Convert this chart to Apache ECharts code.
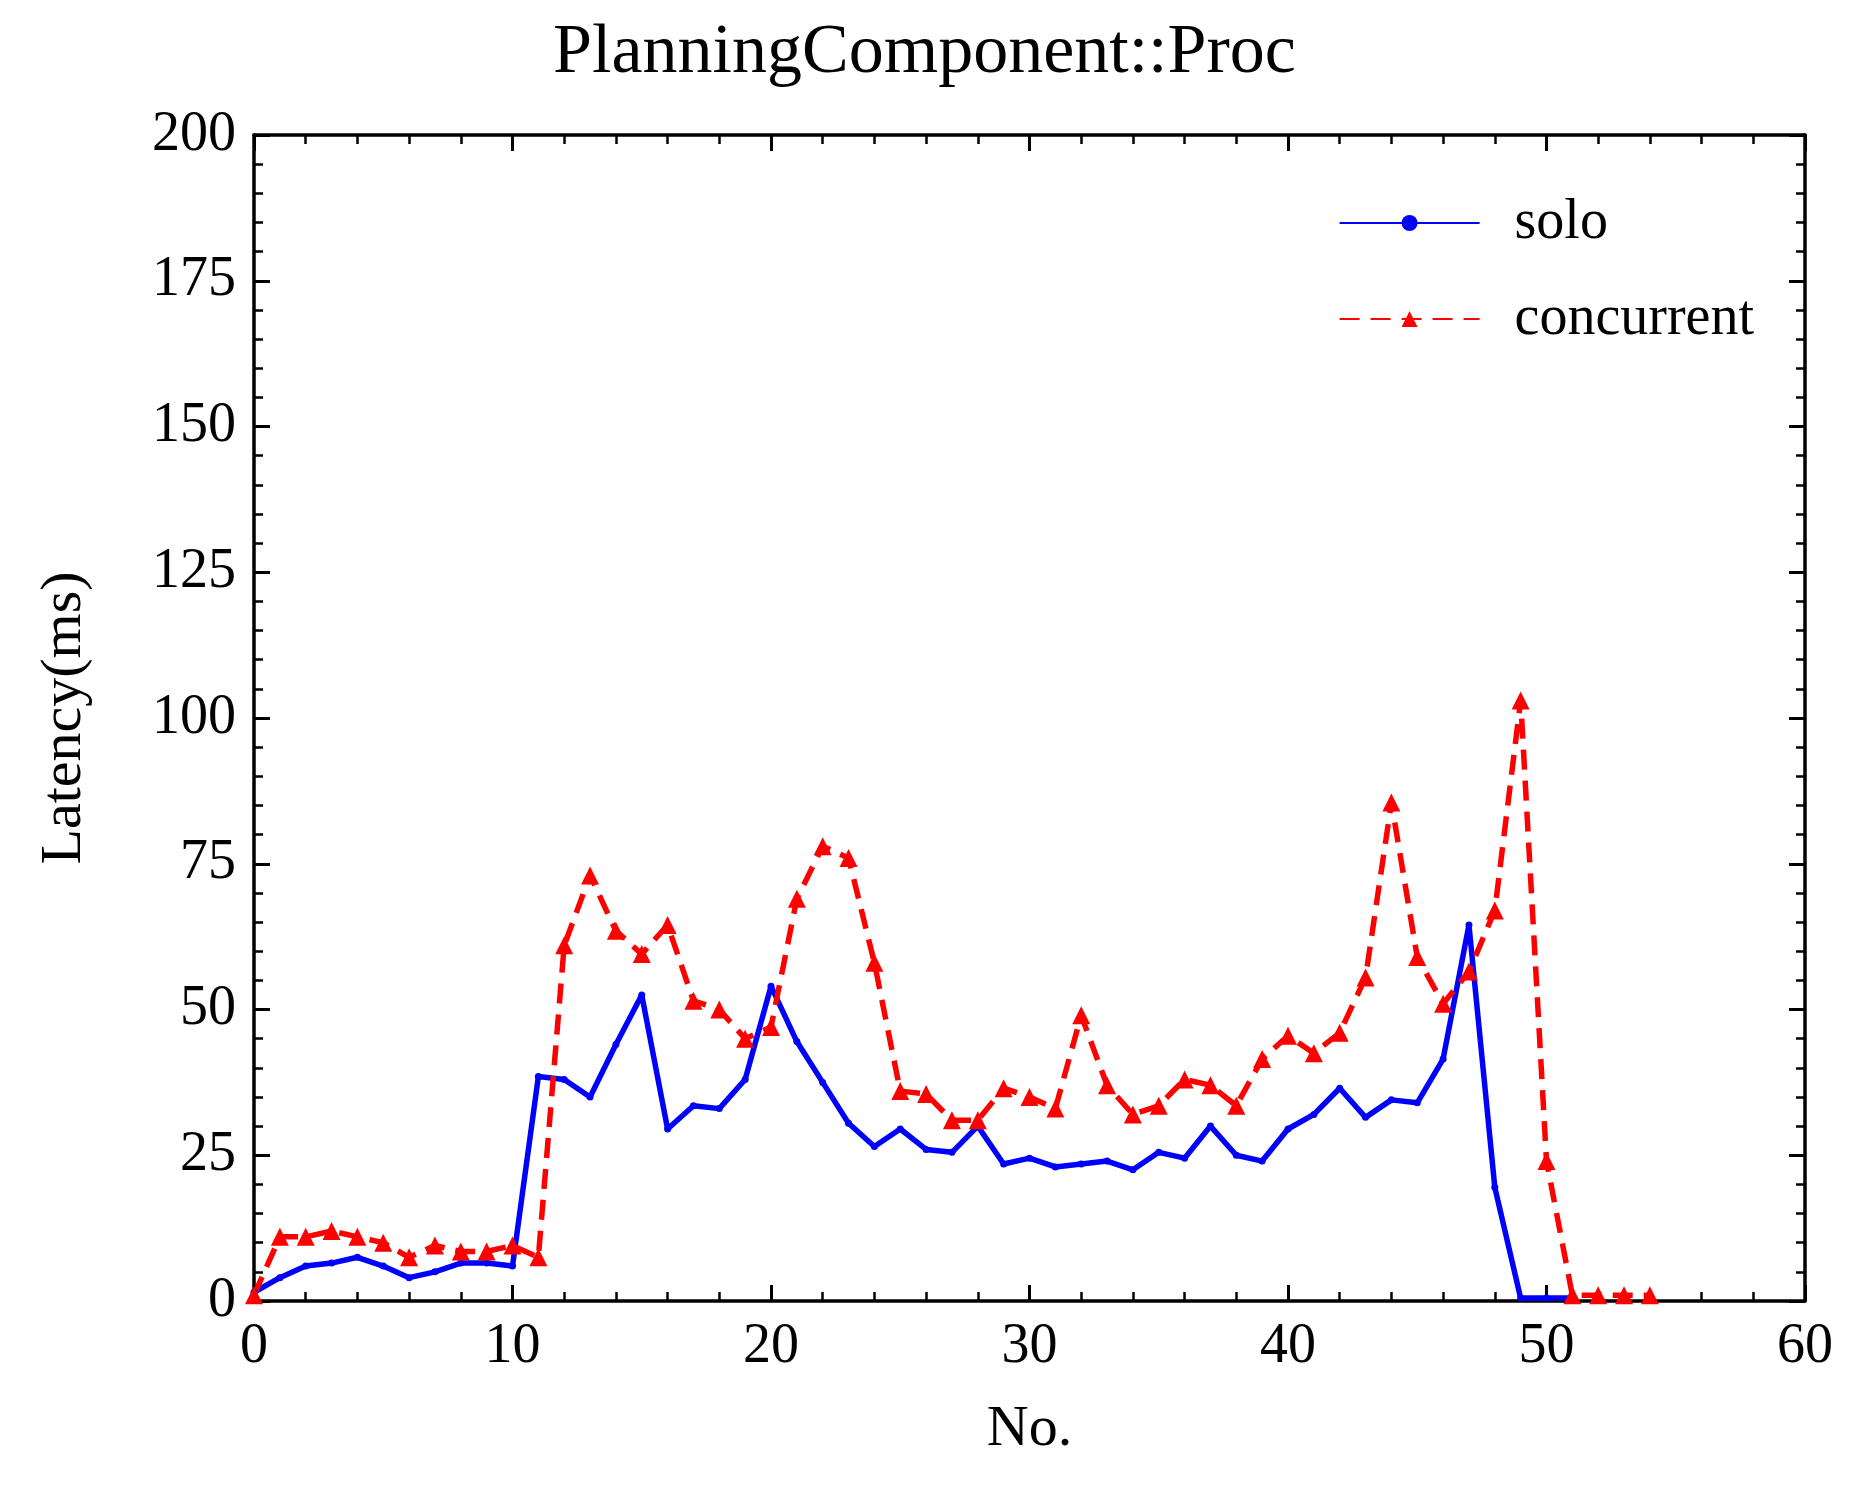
<!DOCTYPE html>
<html>
<head>
<meta charset="utf-8">
<script src="https://cdn.jsdelivr.net/npm/echarts@6/dist/echarts.min.js"></script>
<style>html,body{margin:0;padding:0;background:#fff}#main{width:1849px;height:1500px}</style>
</head>
<body>
<div id="main"></div>
<script>
// 数据
const soloValues = [1.5,4,6,6.5,7.5,6,4,5,6.5,6.5,6,38.5,38,35,44,52.5,29.5,33.5,33,38,54,44.5,37.5,30.5,26.5,29.5,26,25.5,30,23.5,24.5,23,23.5,24,22.5,25.5,24.5,30,25,24,29.5,32,36.5,31.5,34.5,34,41.5,64.5,19.5,0.5,0.5,0.5];
const concurrentValues = [1,11,11,12,11,10,7.5,9.5,8.5,8.5,9.5,7.5,61,73,63.5,59.5,64.5,51.5,50,45,47,69,78,76,58,36,35.5,31,31,36.5,35,33,49,37,32,33.5,38,37,33.5,41.5,45.5,42.5,46,55.5,85.5,59,51,56.5,67,103,24,1,1,1,1];
const xTicks = [0,10,20,30,40,50,60];
const yTicks = [0,25,50,75,100,125,150,175,200];

const font = 'Liberation Serif';
const toPairs = arr => arr.map((v, i) => [i, v]);

const chart = echarts.init(document.getElementById('main'));

// 坐标轴：刻度朝内，四边都有
function makeAxis(opts, showLabel, pos) {
  return Object.assign({
    type: 'value',
    position: pos,
    axisLine: { show: true, onZero: false, lineStyle: { color: '#000', width: 3.5 } },
    axisTick: { show: true, inside: true, length: 16, lineStyle: { color: '#000', width: 3 } },
    minorTick: { show: true, splitNumber: 5, length: 9, lineStyle: { color: '#000', width: 2.5 } },
    splitLine: { show: false },
    axisLabel: { show: showLabel, color: '#000', fontFamily: font, fontSize: 56, margin: 18 }
  }, opts);
}

chart.setOption({
  animation: false,
  title: {
    text: 'PlanningComponent::Proc',
    left: 'center', top: 14,
    textStyle: { fontFamily: font, fontSize: 70, fontWeight: 'normal', color: '#000' }
  },
  legend: {
    right: 90, top: 190, orient: 'vertical', itemGap: 40,
    itemWidth: 140, itemHeight: 20,
    textStyle: { fontFamily: font, fontSize: 56, color: '#000', padding: [0, 0, 0, 30] },
    data: ['solo', 'concurrent']
  },
  grid: { left: 254, right: 44, top: 135, bottom: 199 },
  xAxis: [
    makeAxis({
      min: 0, max: 60, interval: 10,
      name: 'No.', nameLocation: 'middle', nameGap: 100,
      nameTextStyle: { fontFamily: font, fontSize: 58, color: '#000' }
    }, true, 'bottom'),
    makeAxis({ min: 0, max: 60, interval: 10 }, false, 'top')
  ],
  yAxis: [
    makeAxis({
      min: 0, max: 200, interval: 25,
      name: 'Latency(ms)', nameLocation: 'middle', nameGap: 160,
      nameTextStyle: { fontFamily: font, fontSize: 58, color: '#000' }
    }, true, 'left'),
    makeAxis({ min: 0, max: 200, interval: 25 }, false, 'right')
  ],
  series: [
    {
      name: 'solo', type: 'line', data: toPairs(soloValues),
      symbol: 'circle', symbolSize: 7,
      lineStyle: { color: '#0000ff', width: 5.5 },
      itemStyle: { color: '#0000ff' }
    },
    {
      name: 'concurrent', type: 'line', data: toPairs(concurrentValues),
      symbol: 'triangle', symbolSize: 18,
      lineStyle: { color: '#ff0000', width: 5.5, type: [20, 11] },
      itemStyle: { color: '#ff0000' }
    },
    {
      // 占位系列，让上/右坐标轴显示
      type: 'line', xAxisIndex: 1, yAxisIndex: 1, data: [],
      silent: true, showSymbol: false
    }
  ]
});
</script>
</body>
</html>
